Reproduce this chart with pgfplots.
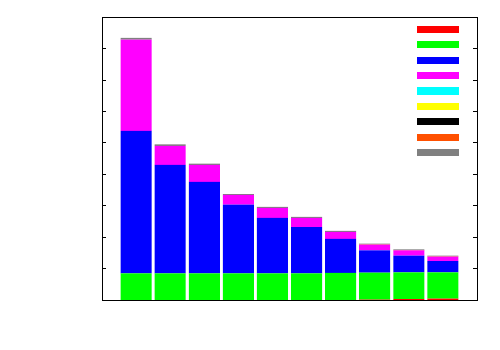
\documentclass[border=0pt]{standalone}
\usepackage{pgfplots}
\pgfplotsset{compat=1.18}
\usepackage{pgfplotstable}
\definecolor{cOrange}{RGB}{255,80,0}
\definecolor{cGray}{RGB}{128,128,128}
\definecolor{cMag}{RGB}{255,0,255}
\definecolor{cCyan}{RGB}{0,255,255}
\definecolor{cYel}{RGB}{255,255,0}
\definecolor{cRed}{RGB}{255,0,0}
\definecolor{cGreen}{RGB}{0,255,0}
\definecolor{cBlue}{RGB}{0,0,255}
\pgfplotstableread{
x red green blue magenta cyan yellow black orange gray
1 0    0.85 4.53 2.90 0 0 0 0    0.06
2 0    0.85 3.45 0.60 0 0 0 0    0.05
3 0    0.85 2.91 0.54 0 0 0 0    0.04
4 0    0.85 2.18 0.31 0 0 0 0    0.03
5 0    0.85 1.76 0.32 0 0 0 0    0.03
6 0    0.85 1.47 0.29 0 0 0 0    0.03
7 0    0.86 1.08 0.23 0 0 0 0    0.03
8 0.01 0.86 0.71 0.18 0 0 0 0.01 0.02
9 0.03 0.85 0.53 0.17 0 0 0 0.01 0.02
10 0.04 0.84 0.36 0.14 0 0 0 0.01 0.02
}\data
\begin{document}
\begin{tikzpicture}
\begin{axis}[
  scale only axis,
  width=375bp, height=283bp,
  xmin=0, xmax=11, ymin=0, ymax=9,
  ybar stacked, bar width=31bp,
  xtick=\empty,
  ytick={1,2,3,4,5,6,7,8},
  yticklabels={},
  tick align=inside,
  major tick length=4bp,
  tick style={black, line width=0.6bp},
  axis line style={black, line width=1bp},
  legend image code/.code={\fill[#1] (0bp,-3.6bp) rectangle (42bp,3.6bp);},
  legend style={draw=none, fill=none, inner sep=0pt, outer sep=0pt,
    row sep=0pt, column sep=0pt,
    nodes={inner sep=0pt, outer sep=0pt, text height=7.7bp, text depth=7.7bp},
    at={(rel axis cs:0.84,0.9837)}, anchor=north west},
]
\addplot[fill=cRed, draw=none] table[x=x,y=red]{\data};
\addlegendentry{\mbox{}}
\addplot[fill=cGreen, draw=none] table[x=x,y=green]{\data};
\addlegendentry{\mbox{}}
\addplot[fill=cBlue, draw=none] table[x=x,y=blue]{\data};
\addlegendentry{\mbox{}}
\addplot[fill=cMag, draw=none] table[x=x,y=magenta]{\data};
\addlegendentry{\mbox{}}
\addplot[fill=cCyan, draw=none] table[x=x,y=cyan]{\data};
\addlegendentry{\mbox{}}
\addplot[fill=cYel, draw=none] table[x=x,y=yellow]{\data};
\addlegendentry{\mbox{}}
\addplot[fill=black, draw=none] table[x=x,y=black]{\data};
\addlegendentry{\mbox{}}
\addplot[fill=cOrange, draw=none] table[x=x,y=orange]{\data};
\addlegendentry{\mbox{}}
\addplot[fill=cGray, draw=none] table[x=x,y=gray]{\data};
\addlegendentry{\mbox{}}
\end{axis}
\pgfresetboundingbox
\useasboundingbox (-102bp,-50bp) rectangle (398bp,300bp);
\end{tikzpicture}
\end{document}
